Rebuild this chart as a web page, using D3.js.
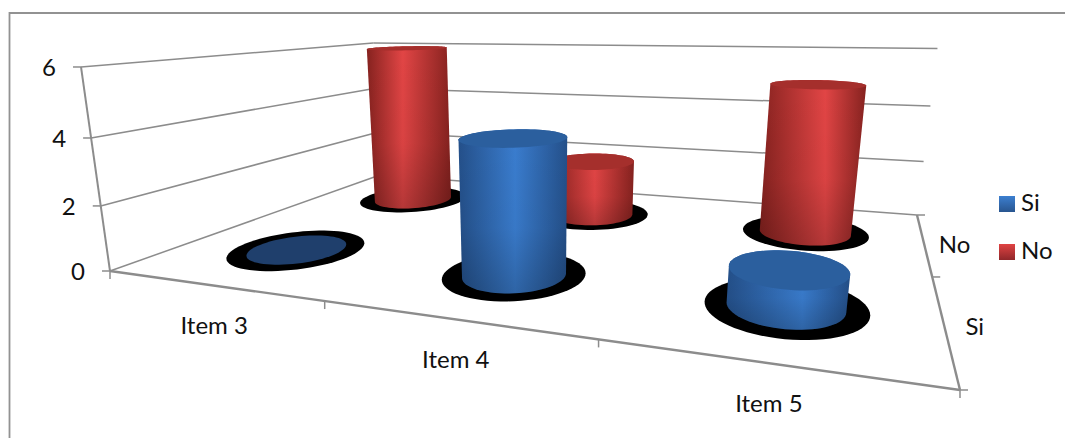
<!DOCTYPE html>
<html>
<head>
<meta charset="utf-8">
<script src="https://cdn.jsdelivr.net/npm/d3@7"></script>
<style>
html,body{margin:0;padding:0;background:#fff;}
svg{display:block;}
text{font-family:Lato,"Open Sans",sans-serif;fill:#111;}
</style>
</head>
<body>
<svg id="chart" width="1065" height="438"></svg>
<script>
// Chart content
const categories = ["Item 3", "Item 4", "Item 5"];
const seriesNames = ["Si", "No"];
const siValues = [0, 4, 1];
const noValues = [6, 2, 5];
const valueTicks = [0, 2, 4, 6];

const palette = {
  Si: {edge: "#24508a", light: "#3a7dcf", cap: "#2b5f9e", flat: "#1f3f6c", swatchTop: "#3c7fd0", swatchBottom: "#28558f"},
  No: {edge: "#86221f", light: "#e24545", cap: "#a52f2c", flat: "#86221f", swatchTop: "#e04343", swatchBottom: "#90272a"}
};
const gridColor = "#8c8c8c";
const frameColor = "#929292";

// Floor of the box on screen: front-left, front-right, back-right, back-left
const floor = {A: [110, 271], B: [960, 390], C: [917, 215], D: [380, 175]};
// Point where the vertical edges of the box converge
const vertical = [539, 3290];
const wallLift = -0.0633;

// Unit square to floor quad, as a projective map
function floorMatrix({A, B, C, D}) {
  const dx1 = B[0] - C[0], dx2 = D[0] - C[0], sx = A[0] - B[0] + C[0] - D[0];
  const dy1 = B[1] - C[1], dy2 = D[1] - C[1], sy = A[1] - B[1] + C[1] - D[1];
  const den = dx1 * dy2 - dx2 * dy1;
  const g = (sx * dy2 - dx2 * sy) / den;
  const h = (dx1 * sy - sx * dy1) / den;
  return {
    a: B[0] - A[0] + g * B[0], b: D[0] - A[0] + h * D[0], c: A[0],
    d: B[1] - A[1] + g * B[1], e: D[1] - A[1] + h * D[1], f: A[1],
    g, h
  };
}
const M = floorMatrix(floor);

// u runs along the categories, w runs front to back, v is the value
const vScale = d3.scaleLinear().domain([0, 6]).range([0, wallLift]);
const uScale = d3.scaleBand().domain(categories).range([0, 1]);
const wScale = d3.scaleBand().domain(seriesNames).range([0, 1]);

function project(u, w, value) {
  const t = vScale(value);
  const q = M.g * u + M.h * w + 1 + t;
  return [
    (M.a * u + M.b * w + M.c + t * vertical[0]) / q,
    (M.d * u + M.e * w + M.f + t * vertical[1]) / q
  ];
}

const svg = d3.select("#chart");
const defs = svg.append("defs");
const line = d3.line();

// Frame: only the top and left edges show
svg.append("path").attr("d", line([[9.5, 438], [9.5, 13], [1065, 13]]))
  .attr("fill", "none").attr("stroke", frameColor).attr("stroke-width", 1.8);

const grid = svg.append("g").attr("fill", "none").attr("stroke", gridColor);
const seg = (a, b, width) => grid.append("path").attr("d", line([a, b])).attr("stroke-width", width || 1.5);

// Gridlines on the side and back walls
valueTicks.forEach(v => {
  const front = project(0, 0, v), corner = project(0, 1, v), right = project(1, 1, v);
  seg(front, corner);
  seg(corner, right);
  seg(front, [front[0] - 8, front[1]]);
});
seg(project(1, 1, 0), [project(1, 1, 0)[0] + 8, project(1, 1, 0)[1]]);

// Vertical axis and the two front floor edges
seg(project(0, 0, 0), project(0, 0, 6), 2);
seg(project(0, 0, 0), project(1, 0, 0), 2.4);
seg(project(1, 0, 0), project(1, 1, 0), 2.4);

// Tick marks along the front and right floor edges
d3.range(0, categories.length + 1).forEach(i => {
  const p = project(i / categories.length, 0, 0);
  seg(p, [p[0], p[1] + 8]);
});
d3.range(0, seriesNames.length).forEach(i => {
  const p = project(1, i / seriesNames.length, 0);
  seg(p, [p[0] + 8, p[1]]);
});

// One cylinder: shadow, body, shaded foot, cap
const circleAngles = d3.range(0, 72).map(i => i / 72 * 2 * Math.PI);
const radiusU = 0.065, radiusW = 0.11, shadowGrow = 1.38, barNudge = 0.004;

function ring(u, w, value, grow) {
  return circleAngles.map(a => project(u + Math.cos(a) * radiusU * grow, w + Math.sin(a) * radiusW * grow, value));
}

defs.append("linearGradient").attr("id", "foot").attr("x1", 0).attr("x2", 0).attr("y1", 0).attr("y2", 1)
  .selectAll("stop").data([[0, 0], [0.6, 0.04], [1, 0.2]]).join("stop")
  .attr("offset", d => d[0]).attr("stop-color", "#000").attr("stop-opacity", d => d[1]);

const highlight = d3.scaleLinear().domain([0, 1]).range([0.38, 0.66]);
const plot = svg.append("g");

function drawCylinder(name, category, value, index) {
  const colors = palette[name];
  const u = uScale(category) + uScale.bandwidth() / 2 + barNudge;
  const w = wScale(name) + wScale.bandwidth() / 2;
  const base = ring(u, w, 0, 1), top = ring(u, w, value, 1);
  const bar = plot.append("g");

  bar.append("path").attr("d", line(ring(u, w, 0, shadowGrow)) + "Z").attr("fill", "#000");

  if (value > 0) {
    const gid = `body-${name}-${index}`;
    defs.append("linearGradient").attr("id", gid)
      .selectAll("stop").data([[0, colors.edge], [highlight(u), colors.light], [1, colors.edge]]).join("stop")
      .attr("offset", d => d[0]).attr("stop-color", d => d[1]);
    const hull = line(d3.polygonHull(base.concat(top))) + "Z";
    bar.append("path").attr("d", hull).attr("fill", `url(#${gid})`);
    bar.append("path").attr("d", hull).attr("fill", "url(#foot)");
  }
  bar.append("path").attr("d", line(top) + "Z").attr("fill", value > 0 ? colors.cap : colors.flat);
}

// Back row first so the front row overlaps it
categories.forEach((c, i) => drawCylinder("No", c, noValues[i], i));
categories.forEach((c, i) => drawCylinder("Si", c, siValues[i], i));

// Text
const labels = svg.append("g").attr("font-size", 24);

valueTicks.forEach(v => {
  const p = project(0, 0, v);
  labels.append("text").attr("x", p[0] - 25).attr("y", p[1] + 3)
    .attr("text-anchor", "end").attr("dominant-baseline", "middle").text(v);
});

categories.forEach(c => {
  const p = project(uScale(c) + uScale.bandwidth() / 2, 0, 0);
  labels.append("text").attr("x", p[0] + 3).attr("y", p[1] + 43)
    .attr("text-anchor", "middle").attr("dominant-baseline", "middle").text(c);
});

seriesNames.forEach(s => {
  const p = project(1, wScale(s) + wScale.bandwidth() / 2, 0);
  labels.append("text").attr("x", p[0] + 31).attr("y", p[1] + 5)
    .attr("text-anchor", "middle").attr("dominant-baseline", "middle").text(s);
});

// Legend
const legendY = d3.scalePoint().domain(seriesNames).range([204, 252]);
seriesNames.forEach(s => {
  const colors = palette[s];
  const gid = `swatch-${s}`;
  defs.append("linearGradient").attr("id", gid).attr("x1", 0).attr("x2", 0).attr("y1", 0).attr("y2", 1)
    .selectAll("stop").data([[0, colors.swatchTop], [1, colors.swatchBottom]]).join("stop")
    .attr("offset", d => d[0]).attr("stop-color", d => d[1]);
  svg.append("rect").attr("x", 999).attr("y", legendY(s) - 8).attr("width", 16).attr("height", 16)
    .attr("fill", `url(#${gid})`);
  labels.append("text").attr("x", 1021).attr("y", legendY(s) + 1)
    .attr("dominant-baseline", "middle").text(s);
});
</script>
</body>
</html>
